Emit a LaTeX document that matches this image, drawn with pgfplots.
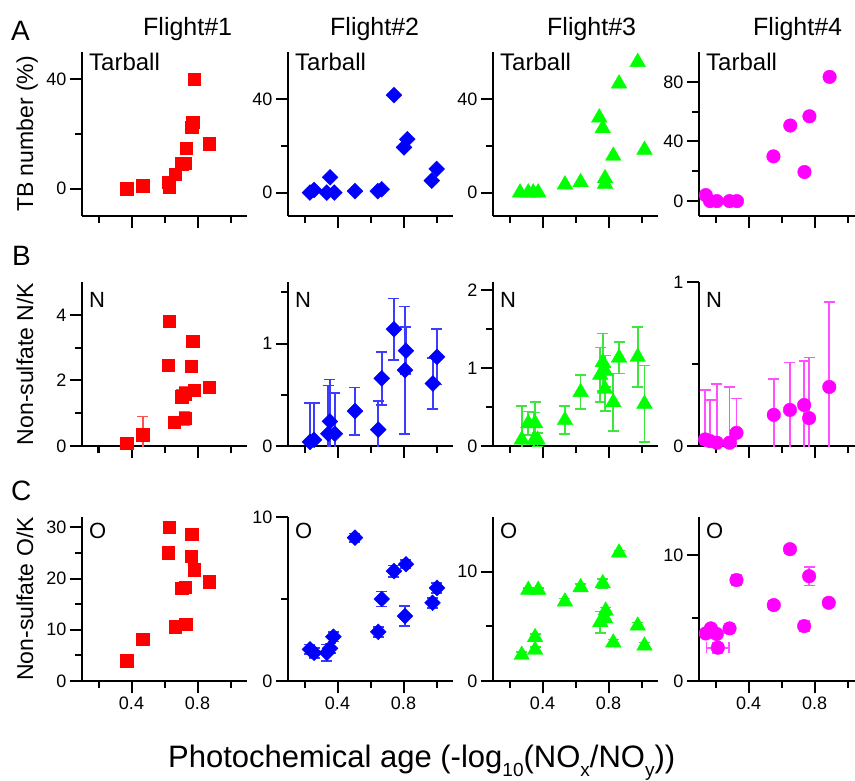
\documentclass[border=0pt]{standalone}
\usepackage{fontspec}
\setmainfont{Liberation Sans}
\usepackage{pgfplots}
\pgfplotsset{compat=1.18}

\definecolor{cR}{RGB}{255,0,0}
\definecolor{cB}{RGB}{0,0,255}
\definecolor{cG}{RGB}{0,255,0}
\definecolor{cM}{RGB}{255,0,255}
\definecolor{eR}{RGB}{255,80,80}
\definecolor{eB}{RGB}{60,60,255}
\definecolor{eG}{RGB}{60,230,60}
\definecolor{eM}{RGB}{255,80,255}

\newcommand\fs[1]{\fontsize{#1}{#1}\selectfont}
\newcommand\sub[1]{\raisebox{-0.3em}{\fs{19}#1}}

\pgfplotsset{
  panel/.style={scale only axis, width=165pt, height=164pt,
    xmin=0.1, xmax=1.1,
    axis x line*=bottom, axis y line*=left,
    axis line style={line width=2pt},
    tick align=outside, major tick length=12pt, minor tick length=7pt,
    major tick style={line width=2pt, black},
    minor tick style={line width=2pt, black},
    xtick={0.4,0.8}, minor xtick={0.2,0.6,1.0}, xticklabels={},
    tick label style={font=\fs{18}},
    /pgf/number format/assume math mode=true,
    clip=true},
  lastrow/.style={xticklabels={0.4,0.8}},
  errs/.style={only marks, error bars/.cd, y dir=both, y explicit,
    error bar style={line width=1.7pt, draw=#1},
    error mark options={rotate=90, mark size=5.5pt, line width=1.7pt, draw=#1}},
  sq/.style={only marks, mark=square*, mark size=6.2pt, color=cR},
  dm/.style={only marks, mark=square*, mark size=5.6pt, mark options={rotate=45}, color=cB},
  tr/.style={only marks, mark=triangle*, mark size=9pt, color=cG},
  ci/.style={only marks, mark=*, mark size=6.8pt, color=cM},
}
\newcommand\ptag[2]{\node[anchor=north west, inner sep=0pt, font=\fs{#1}] at (rel axis cs:0,1) [xshift=7pt, yshift=#2] }

\begin{document}
\begin{tikzpicture}
\useasboundingbox (0,0) rectangle (855pt,-780pt);

% titles and labels
\node[anchor=base west, inner sep=0pt, font=\fs{25}] at (143pt,-35pt) {Flight\#1};
\node[anchor=base west, inner sep=0pt, font=\fs{25}] at (330pt,-35pt) {Flight\#2};
\node[anchor=base west, inner sep=0pt, font=\fs{25}] at (547pt,-35pt) {Flight\#3};
\node[anchor=base west, inner sep=0pt, font=\fs{25}] at (753pt,-35pt) {Flight\#4};
\node[anchor=base west, inner sep=0pt, font=\fs{28}] at (11pt,-40pt) {A};
\node[anchor=base west, inner sep=0pt, font=\fs{28}] at (12pt,-265pt) {B};
\node[anchor=base west, inner sep=0pt, font=\fs{28}] at (11pt,-500pt) {C};
\node[rotate=90, anchor=base, inner sep=0pt, font=\fs{23}] at (33pt,-134pt) {TB number (\%)};
\node[rotate=90, anchor=base, inner sep=0pt, font=\fs{23}] at (33pt,-364pt) {Non-sulfate N/K};
\node[rotate=90, anchor=base, inner sep=0pt, font=\fs{23}] at (33pt,-599pt) {Non-sulfate O/K};
\node[anchor=base west, inner sep=0pt, font=\fs{31}] at (168pt,-767pt) {Photochemical age (-log\sub{10}(NO\sub{x}/NO\sub{y}))};

% ---------- row A ----------
\begin{axis}[panel, at={(82pt,-216pt)}, anchor=south west, ymin=-10, ymax=50, ytick={0,40}, minor ytick={20}]
\addplot[sq] table {
0.371 0.0
0.468 1.1
0.623 2.3
0.627 0.5
0.664 5.4
0.704 9.1
0.724 9.3
0.730 14.8
0.765 22.5
0.771 24.3
0.779 40.0
0.870 16.4
};
\ptag{24}{-1pt}{Tarball};
\end{axis}

\begin{axis}[panel, at={(288pt,-216pt)}, anchor=south west, ymin=-10, ymax=60, ytick={0,40}, minor ytick={20}]
\addplot[dm] table {
0.233 0.0
0.258 1.1
0.335 0.0
0.355 6.5
0.381 0.0
0.506 0.6
0.644 0.6
0.668 1.4
0.742 41.6
0.803 19.3
0.823 22.8
0.971 5.1
1.001 10.1
};
\ptag{24}{-1pt}{Tarball};
\end{axis}

\begin{axis}[panel, at={(493pt,-216pt)}, anchor=south west, ymin=-10, ymax=60, ytick={0,40}, minor ytick={20}]
\addplot[tr] table {
0.264 0.0
0.314 0.0
0.344 0.0
0.374 0.0
0.536 3.4
0.631 4.4
0.744 32.0
0.765 27.4
0.779 6.1
0.779 3.7
0.829 15.7
0.864 46.5
0.977 55.7
1.018 18.2
};
\ptag{24}{-1pt}{Tarball};
\end{axis}

\begin{axis}[panel, width=156pt, xmax=1.045, at={(699pt,-216pt)}, anchor=south west, ymin=-10, ymax=100, ytick={0,40,80}, minor ytick={20,60}]
\addplot[ci] table {
0.141 4.0
0.167 0.0
0.208 0.0
0.285 0.0
0.330 0.0
0.551 30.0
0.653 50.7
0.739 19.5
0.769 56.9
0.891 83.3
};
\ptag{24}{-1pt}{Tarball};
\end{axis}

% ---------- row B ----------
\begin{axis}[panel, at={(82pt,-446pt)}, anchor=south west, ymin=0, ymax=5, ytick={0,2,4}, minor ytick={1,3}]
\addplot[sq, errs=eR] table[x index=0, y index=1, y error index=2] {
0.371 0.08 0.10
0.468 0.34 0.56
0.629 3.80 0.10
0.623 2.47 0.10
0.658 0.72 0.15
0.724 0.85 0.20
0.704 1.50 0.20
0.724 1.60 0.20
0.771 3.20 0.10
0.761 2.44 0.15
0.779 1.71 0.10
0.870 1.79 0.10
};
\ptag{22}{-10pt}{N};
\end{axis}

\begin{axis}[panel, at={(288pt,-446pt)}, anchor=south west, ymin=0, ymax=1.6, ytick={0,1}, minor ytick={0.5,1.5}]
\addplot[dm, errs=eB] table[x index=0, y index=1, y error index=2] {
0.233 0.04 0.38
0.258 0.06 0.36
0.344 0.12 0.47
0.354 0.24 0.41
0.384 0.12 0.40
0.506 0.34 0.23
0.647 0.16 0.28
0.668 0.66 0.26
0.742 1.14 0.30
0.815 0.93 0.23
0.809 0.74 0.62
0.978 0.61 0.25
1.003 0.87 0.27
};
\ptag{22}{-10pt}{N};
\end{axis}

\begin{axis}[panel, at={(493pt,-446pt)}, anchor=south west, ymin=0, ymax=2.1, ytick={0,1,2}, minor ytick={0.5,1.5}]
\addplot[tr, errs=eG] table[x index=0, y index=1, y error index=2] {
0.274 0.08 0.43
0.314 0.29 0.15
0.355 0.29 0.27
0.350 0.08 0.35
0.370 0.08 0.09
0.536 0.33 0.18
0.631 0.69 0.22
0.765 1.07 0.37
0.750 0.91 0.35
0.779 0.96 0.20
0.779 0.73 0.28
0.829 0.56 0.37
0.864 1.13 0.20
0.977 1.14 0.38
1.018 0.54 0.49
};
\ptag{22}{-10pt}{N};
\end{axis}

\begin{axis}[panel, width=156pt, xmax=1.045, at={(699pt,-446pt)}, anchor=south west, ymin=0, ymax=1, ytick={0,1}, minor ytick={0.5}]
\addplot[ci, errs=eM] table[x index=0, y index=1, y error index=2] {
0.137 0.04 0.30
0.167 0.03 0.25
0.208 0.02 0.36
0.285 0.02 0.34
0.327 0.08 0.21
0.553 0.19 0.22
0.651 0.22 0.29
0.737 0.25 0.27
0.767 0.17 0.37
0.889 0.36 0.52
};
\ptag{22}{-10pt}{N};
\end{axis}

% ---------- row C ----------
\begin{axis}[panel, lastrow, at={(82pt,-681pt)}, anchor=south west, ymin=0, ymax=32, ytick={0,10,20,30}, minor ytick={5,15,25}]
\addplot[sq] table {
0.371 3.96
0.468 8.1
0.629 30.0
0.623 25.0
0.664 10.6
0.728 11.1
0.704 18.1
0.724 18.3
0.765 28.7
0.761 24.4
0.779 21.7
0.870 19.4
};
\ptag{22}{-6pt}{O};
\end{axis}

\begin{axis}[panel, lastrow, at={(288pt,-681pt)}, anchor=south west, ymin=0, ymax=10, ytick={0,10}, minor ytick={5}]
\addplot[dm, errs=eB] table[x index=0, y index=1, y error index=2] {
0.233 1.93 0.30
0.258 1.72 0.30
0.335 1.72 0.50
0.355 1.99 0.30
0.375 2.70 0.30
0.506 8.74 0.25
0.647 3.00 0.30
0.668 5.00 0.45
0.742 6.70 0.35
0.815 7.12 0.25
0.809 3.96 0.60
0.976 4.77 0.30
1.003 5.68 0.30
};
\ptag{22}{-6pt}{O};
\end{axis}

\begin{axis}[panel, lastrow, at={(493pt,-681pt)}, anchor=south west, ymin=0, ymax=15, ytick={0,10}, minor ytick={5}]
\addplot[tr, errs=eG] table[x index=0, y index=1, y error index=2] {
0.274 2.38 0.30
0.314 8.33 0.20
0.355 2.84 0.30
0.355 4.00 0.30
0.374 8.33 0.20
0.536 7.26 0.30
0.631 8.57 0.30
0.765 8.93 0.40
0.750 5.37 1.00
0.779 5.73 0.30
0.783 6.43 0.30
0.829 3.51 0.30
0.864 11.74 0.20
0.977 5.06 0.30
1.018 3.23 0.30
};
\ptag{22}{-6pt}{O};
\end{axis}

\begin{axis}[panel, lastrow, width=156pt, xmax=1.045, at={(699pt,-681pt)}, anchor=south west, ymin=0, ymax=13, ytick={0,10}, minor ytick={5}]
\addplot[ci, error bars/x dir=both, error bars/x explicit, errs=eM] table[x index=0, y index=1, x error index=2, y error index=3] {
0.141 3.77 0.000 0.30
0.172 4.17 0.000 0.30
0.208 3.72 0.000 0.30
0.214 2.64 0.068 0.40
0.285 4.17 0.000 0.40
0.327 8.00 0.000 0.40
0.553 6.02 0.000 0.30
0.651 10.45 0.000 0.30
0.737 4.35 0.000 0.40
0.767 8.31 0.000 0.75
0.886 6.20 0.000 0.30
};
\ptag{22}{-6pt}{O};
\end{axis}
\end{tikzpicture}
\end{document}
